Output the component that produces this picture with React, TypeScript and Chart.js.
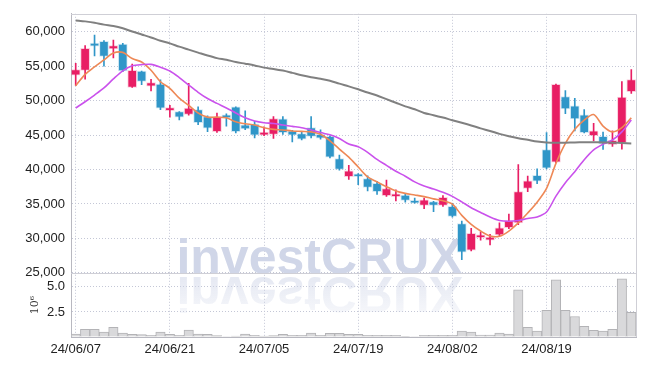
import React, { useEffect, useRef } from 'react';
import { Chart, registerables } from 'chart.js';
Chart.register(...registerables);

const dates = [
  '24/06/07', '24/06/10', '24/06/11', '24/06/12', '24/06/13', '24/06/14',
  '24/06/17', '24/06/18', '24/06/19', '24/06/20', '24/06/21',
  '24/06/24', '24/06/25', '24/06/26', '24/06/27', '24/06/28',
  '24/07/01', '24/07/02', '24/07/03', '24/07/04', '24/07/05',
  '24/07/08', '24/07/09', '24/07/10', '24/07/11', '24/07/12',
  '24/07/15', '24/07/16', '24/07/17', '24/07/18', '24/07/19',
  '24/07/22', '24/07/23', '24/07/24', '24/07/25', '24/07/26',
  '24/07/29', '24/07/30', '24/07/31', '24/08/01', '24/08/02',
  '24/08/05', '24/08/06', '24/08/07', '24/08/08', '24/08/09',
  '24/08/12', '24/08/13', '24/08/14', '24/08/16',
  '24/08/19', '24/08/20', '24/08/21', '24/08/22', '24/08/23',
  '24/08/26', '24/08/27', '24/08/28', '24/08/29', '24/08/30',
];

const opens = [
  53700, 54400, 58000, 58600, 57500, 58200, 51900, 54300, 52100, 52400,
  48550, 48400, 48000, 48700, 47700, 45500, 47800, 49100, 46500, 46600,
  45000, 45100, 47350, 45600, 45200, 46100, 45100, 44800, 41600, 38950,
  39150, 38700, 38000, 36200, 36050, 36300, 35350, 34800, 35350, 34800,
  34650, 32150, 28300, 30100, 29750, 30500, 31550, 32250, 37250, 39150,
  42900, 41050, 50600, 49250, 47950, 44900, 44800, 43600, 43850, 51300,
];
const highs = [
  55400, 58000, 59500, 58700, 58800, 58300, 55300, 54300, 53100, 53000,
  49300, 48400, 52500, 49100, 47800, 48200, 48100, 49100, 48500, 47000,
  46200, 47700, 47700, 45700, 45500, 47700, 45750, 44900, 42100, 40600,
  39400, 39100, 38300, 38450, 37050, 36550, 35850, 35850, 35400, 36200,
  35100, 32500, 31450, 30950, 30600, 32250, 33550, 40700, 39050, 40100,
  45350, 52400, 51450, 50350, 48700, 46700, 45450, 45600, 52750, 54500,
];
const lows = [
  52200, 53100, 56500, 55000, 56200, 54200, 51900, 52300, 51400, 48700,
  47600, 47200, 47900, 46500, 45500, 45400, 46300, 45300, 45800, 44600,
  44900, 44500, 45100, 44000, 44300, 44600, 44400, 41700, 39900, 38550,
  37800, 36900, 36400, 36100, 35450, 35250, 35100, 34300, 33900, 34650,
  33100, 26900, 28200, 29750, 29050, 30350, 31400, 32000, 36800, 37950,
  40100, 41000, 48100, 45600, 45300, 44150, 42900, 43350, 42950, 51050,
];
const closes = [
  54500, 57600, 57900, 56400, 58000, 54300, 54400, 52800, 52600, 48900,
  48900, 47600, 48900, 46800, 46000, 47700, 47500, 45500, 45900, 45000,
  45250, 47400, 45350, 45000, 44400, 44800, 44550, 41800, 40000, 39800,
  38950, 37400, 36800, 37250, 36300, 35500, 35100, 35600, 34800, 35950,
  33200, 28000, 30750, 30500, 30100, 31550, 32600, 36800, 38350, 38300,
  40200, 52350, 48800, 47350, 45350, 45600, 43700, 44250, 50500, 53050,
];

const ma5 = [
  52170, 53800, 54900, 55900, 56900, 57000, 56100, 55600, 54400, 52740,
  51790, 50360, 49310, 48210, 47600, 47600, 47500, 46930, 46640, 46460,
  46070, 45830, 45740, 45600, 45540, 45460, 45110, 44170, 42970, 41790,
  40360, 38930, 38210, 37500, 36890, 36540, 36310, 36070, 35740, 35460,
  34970, 33350, 32030, 31070, 30360, 30310, 31070, 32260, 33690, 35260,
  37260, 40900, 43800, 45830, 47170, 47970, 46310, 45460, 46070, 47500,
];
const ma20 = [
  48930, 49840, 50810, 51840, 53150, 54330, 55050, 55230, 55260, 54850,
  54300, 53350, 52260, 51210, 50300, 49600, 48930, 48210, 47500, 47030,
  46790, 46690, 46460, 46260, 46070, 45740, 45360, 45030, 44500, 43690,
  43310, 42500, 41460, 40600, 39740, 39030, 38210, 37600, 37170, 36690,
  36100, 35300, 34450, 33760, 33100, 32600, 32500, 32600, 32890, 33110,
  33830, 36140, 38090, 39690, 41420, 42850, 43690, 44280, 45460, 47170,
];
const ma120 = [
  61640, 61500, 61310, 61030, 60830, 60500, 60030, 59600, 59170, 58690,
  58310, 57830, 57400, 56970, 56540, 56170, 55930, 55600, 55360, 55110,
  54790, 54600, 54360, 54030, 53690, 53400, 53170, 52890, 52460, 52070,
  51640, 51170, 50740, 50210, 49690, 49170, 48740, 48210, 47890, 47540,
  47160, 46790, 46400, 45970, 45600, 45170, 44830, 44540, 44310, 44070,
  43930, 43880, 43900, 43930, 43950, 43950, 43930, 43900, 43850, 43790,
];

// volume in millions of shares
const volumes = [
  0.30, 0.76, 0.76, 0.49, 0.96, 0.40, 0.27, 0.24, 0.17, 0.49,
  0.27, 0.17, 0.69, 0.30, 0.27, 0.13, 0.05, 0.10, 0.30, 0.17,
  0.10, 0.13, 0.27, 0.17, 0.17, 0.40, 0.17, 0.36, 0.36, 0.27,
  0.27, 0.17, 0.17, 0.17, 0.17, 0.07, 0.05, 0.17, 0.17, 0.17,
  0.17, 0.59, 0.49, 0.20, 0.20, 0.40, 0.30, 4.71, 0.96, 0.59,
  2.67, 5.70, 2.67, 2.05, 1.06, 0.66, 0.59, 0.76, 5.80, 2.47,
];

const priceTicks = [25000, 30000, 35000, 40000, 45000, 50000, 55000, 60000];
const volumeTicks = [0, 2.5, 5.0];
const PRICE_MIN = 25000;
const PRICE_MAX = 62600;
const VOL_MAX = 6.4;
const LABEL_EVERY = 10;

const UP = 'rgb(232, 30, 100)';
const UP_HALO = 'rgba(232, 30, 100, 0.22)';
const DOWN = 'rgb(48, 150, 200)';
const DOWN_HALO = 'rgba(48, 150, 200, 0.22)';
const GRID = '#c4c7d6';
const FONT = '"Liberation Sans", Arial, sans-serif';

const isUp = (i: number) => closes[i] >= opens[i];

const watermarkPlugin = {
  id: 'watermark',
  beforeDatasetsDraw(chart: any) {
    const { ctx, chartArea } = chart;
    const py = chart.scales.y;
    const base = py.bottom + 1;
    const cx = (chartArea.left + chartArea.right) / 2 - 34;
    ctx.save();
    ctx.font = `bold 50px ${FONT}`;
    ctx.textAlign = 'center';
    ctx.textBaseline = 'alphabetic';
    ctx.fillStyle = 'rgb(208, 214, 232)';
    ctx.fillText('investCRUX', cx, base);
    ctx.translate(0, base * 2 + 3);
    ctx.scale(1, -1);
    const g = ctx.createLinearGradient(0, base, 0, base - 42);
    g.addColorStop(0, 'rgba(208, 214, 232, 0.55)');
    g.addColorStop(1, 'rgba(208, 214, 232, 0.15)');
    ctx.fillStyle = g;
    ctx.fillText('investCRUX', cx, base);
    ctx.restore();

    // frame
    ctx.save();
    ctx.strokeStyle = '#cfcfd6';
    ctx.lineWidth = 1;
    ctx.beginPath();
    ctx.moveTo(chartArea.left, Math.round(chartArea.top) + 0.5);
    ctx.lineTo(Math.round(chartArea.right) + 0.5, Math.round(chartArea.top) + 0.5);
    ctx.lineTo(Math.round(chartArea.right) + 0.5, chartArea.bottom);
    ctx.moveTo(chartArea.left, Math.round(py.bottom) + 0.5);
    ctx.lineTo(chartArea.right, Math.round(py.bottom) + 0.5);
    ctx.stroke();
    ctx.restore();
  },
};

export default function App() {
  const ref = useRef<HTMLCanvasElement | null>(null);

  useEffect(() => {
    if (!ref.current) return;
    const wickData = dates.map((_, i) => [lows[i], highs[i]]);
    const bodyData = dates.map((_, i) => [opens[i], closes[i]]);
    const upColors = dates.map((_, i) => (isUp(i) ? UP : DOWN));
    const haloColors = dates.map((_, i) => (isUp(i) ? UP_HALO : DOWN_HALO));

    const chart = new Chart(ref.current, {
      type: 'bar',
      data: {
        labels: dates,
        datasets: [
          {
            type: 'line',
            data: ma120,
            yAxisID: 'y',
            borderColor: 'rgb(128, 128, 128)',
            borderWidth: 2,
            pointRadius: 0,
            tension: 0.3,
            order: 0,
          } as any,
          {
            type: 'line',
            data: ma20,
            yAxisID: 'y',
            borderColor: 'rgb(202, 82, 236)',
            borderWidth: 1.6,
            pointRadius: 0,
            tension: 0.3,
            order: 0,
          } as any,
          {
            type: 'line',
            data: ma5,
            yAxisID: 'y',
            borderColor: 'rgb(238, 136, 86)',
            borderWidth: 1.6,
            pointRadius: 0,
            tension: 0.3,
            order: 0,
          } as any,
          {
            type: 'bar',
            data: bodyData,
            yAxisID: 'y',
            backgroundColor: upColors,
            borderColor: haloColors,
            borderWidth: 1,
            borderSkipped: false,
            barThickness: 9,
            minBarLength: 3,
            grouped: false,
            order: 1,
          } as any,
          {
            type: 'bar',
            data: wickData,
            yAxisID: 'y',
            backgroundColor: upColors,
            borderWidth: 0,
            barThickness: 1,
            grouped: false,
            order: 2,
          } as any,
          {
            type: 'bar',
            data: volumes,
            yAxisID: 'yv',
            backgroundColor: '#d9d9db',
            borderColor: '#b3b3b6',
            borderWidth: 1,
            borderSkipped: 'bottom',
            barPercentage: 1,
            categoryPercentage: 1,
            grouped: false,
            order: 3,
          } as any,
        ],
      },
      options: {
        responsive: false,
        animation: false,
        events: [],
        layout: { padding: { top: 9, right: 9, left: 0, bottom: 0 } },
        plugins: {
          legend: { display: false },
          tooltip: { enabled: false },
        },
        scales: {
          x: {
            type: 'category',
            offset: true,
            afterBuildTicks: (s: any) => {
              s.ticks = s.ticks.filter((t: any) => t.value % LABEL_EVERY === 0);
            },
            afterFit: (s: any) => {
              s.height = 29;
            },
            grid: {
              offset: false,
              color: GRID,
              drawTicks: false,
            },
            border: { display: true, color: '#b8b8c0', dash: [1, 2] },
            ticks: {
              autoSkip: false,
              maxRotation: 0,
              padding: 5,
              color: '#222',
              font: { family: FONT, size: 13 },
            },
          },
          y: {
            type: 'linear',
            position: 'left',
            stack: 'panes',
            stackWeight: 4.04,
            weight: 2,
            min: PRICE_MIN,
            max: PRICE_MAX,
            afterBuildTicks: (s: any) => {
              s.ticks = priceTicks.map((v) => ({ value: v }));
            },
            afterFit: (s: any) => {
              s.width = 71;
            },
            grid: { color: GRID, drawTicks: false },
            border: { display: true, color: '#b8b8c0', dash: [1, 2] },
            ticks: {
              autoSkip: false,
              padding: 6,
              color: '#222',
              font: { family: FONT, size: 13 },
              callback: (v: any) => Number(v).toLocaleString('en-US'),
            },
          } as any,
          yv: {
            type: 'linear',
            position: 'left',
            stack: 'panes',
            stackWeight: 1,
            weight: 1,
            min: 0,
            max: VOL_MAX,
            afterBuildTicks: (s: any) => {
              s.ticks = volumeTicks.map((v) => ({ value: v }));
            },
            afterFit: (s: any) => {
              s.width = 71;
            },
            grid: { color: GRID, drawTicks: false },
            border: { display: true, color: '#b8b8c0', dash: [1, 2] },
            title: {
              display: true,
              text: '10⁶',
              color: '#333',
              font: { family: '"DejaVu Serif", serif', size: 11 },
              padding: { top: 29, bottom: 0 },
            },
            ticks: {
              autoSkip: false,
              padding: 6,
              color: '#222',
              font: { family: FONT, size: 13 },
              callback: (v: any) => (Number(v) === 0 ? '' : Number(v).toFixed(1)),
            },
          } as any,
        },
      },
      plugins: [watermarkPlugin],
    } as any);

    return () => chart.destroy();
  }, []);

  return (
    <div style={{ position: 'fixed', left: 0, top: 0, width: 645, height: 366, background: '#fff' }}>
      <canvas ref={ref} width={645} height={366} style={{ width: 645, height: 366, display: 'block' }} />
    </div>
  );
}
